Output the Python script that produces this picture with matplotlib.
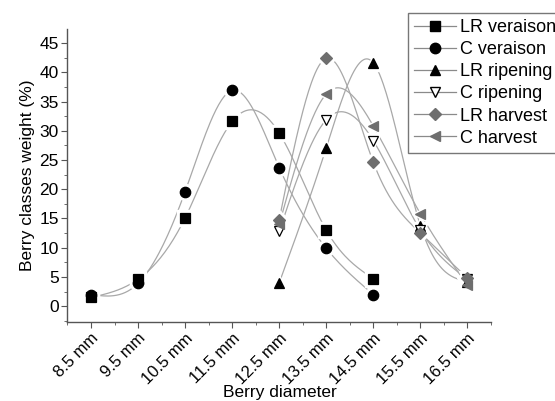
import numpy as np
import matplotlib
matplotlib.use('Agg')
import matplotlib.pyplot as plt
from matplotlib.lines import Line2D

sizes = [8.5, 9.5, 10.5, 11.5, 12.5, 13.5, 14.5, 15.5, 16.5]
tick_labels = ['8.5 mm', '9.5 mm', '10.5 mm', '11.5 mm', '12.5 mm',
               '13.5 mm', '14.5 mm', '15.5 mm', '16.5 mm']

lr_veraison_x = [8.5, 9.5, 10.5, 11.5, 12.5, 13.5, 14.5]
lr_veraison = [1.5, 4.6, 15.1, 31.6, 29.6, 13.0, 4.7]
c_veraison_x = [8.5, 9.5, 10.5, 11.5, 12.5, 13.5, 14.5]
c_veraison = [2.0, 3.9, 19.6, 36.9, 23.7, 9.9, 2.0]
late_x = [12.5, 13.5, 14.5, 15.5, 16.5]
lr_ripening = [4.0, 27.1, 41.6, 13.8, 4.2]
c_ripening = [12.8, 31.9, 28.3, 13.0, 4.6]
lr_harvest = [14.8, 42.4, 24.6, 12.5, 4.8]
c_harvest = [14.0, 36.3, 30.8, 15.8, 3.6]

series = [
    ('LR veraison', lr_veraison_x, lr_veraison, 's', 'black', 'black'),
    ('C veraison', c_veraison_x, c_veraison, 'o', 'black', 'black'),
    ('LR ripening', late_x, lr_ripening, '^', 'black', 'black'),
    ('C ripening', late_x, c_ripening, 'v', 'white', 'black'),
    ('LR harvest', late_x, lr_harvest, 'D', '#6e6e6e', '#6e6e6e'),
    ('C harvest', late_x, c_harvest, '<', '#6e6e6e', '#6e6e6e'),
]


def spline(x, y, n=200):
    # natural cubic spline, just for drawing the smooth connecting line
    x = np.asarray(x, float)
    y = np.asarray(y, float)
    k = len(x)
    h = np.diff(x)
    A = np.zeros((k, k))
    r = np.zeros(k)
    A[0, 0] = A[-1, -1] = 1
    for i in range(1, k - 1):
        A[i, i - 1] = h[i - 1]
        A[i, i] = 2 * (h[i - 1] + h[i])
        A[i, i + 1] = h[i]
        r[i] = 6 * ((y[i + 1] - y[i]) / h[i] - (y[i] - y[i - 1]) / h[i - 1])
    m = np.linalg.solve(A, r)
    xs = np.linspace(x[0], x[-1], n)
    idx = np.clip(np.searchsorted(x, xs) - 1, 0, k - 2)
    x0, x1 = x[idx], x[idx + 1]
    hh = x1 - x0
    a = (x1 - xs) / hh
    b = (xs - x0) / hh
    ys = (a * y[idx] + b * y[idx + 1]
          + ((a ** 3 - a) * m[idx] + (b ** 3 - b) * m[idx + 1]) * hh ** 2 / 6)
    return xs, ys


def msize(mk):
    return 6.5 if mk == 'D' else 7.5


plt.rcParams['font.family'] = ['Liberation Sans', 'DejaVu Sans']
fs = 12
fig = plt.figure(figsize=(5.55, 4.01), dpi=100)
ax = fig.add_axes([67 / 555, 1 - 322 / 401, (491 - 67) / 555, (322 - 29) / 401])

for name, x, y, mk, fc, ec in series:
    xs, ys = spline(x, y)
    ax.plot(xs, ys, color='#a8a8a8', lw=0.9, zorder=1)

# white halo gives the gap in the lines around each marker
for name, x, y, mk, fc, ec in series:
    ax.plot(x, y, ls='none', marker=mk, ms=msize(mk) + 4, mfc='white',
            mec='white', zorder=2)
for name, x, y, mk, fc, ec in series:
    ax.plot(x, y, ls='none', marker=mk, ms=msize(mk),
            mfc=fc, mec=ec, mew=0.9, zorder=3)

ax.set_xlim(7.99, 17.0)
ax.set_ylim(-2.7, 47.4)
ax.set_xticks(sizes)
ax.set_xticklabels(tick_labels, rotation=45, ha='right', rotation_mode='anchor')
ax.set_xticks(np.arange(8.0, 17.01, 0.5), minor=True)
ax.set_yticks(np.arange(0, 46, 5))
ax.set_yticks(np.arange(-2.5, 47.5, 2.5), minor=True)
for s in ['top', 'right']:
    ax.spines[s].set_visible(False)
for s in ['left', 'bottom']:
    ax.spines[s].set_color('#555555')
    ax.spines[s].set_linewidth(1.0)
ax.tick_params(axis='both', which='major', length=4, color='#555555',
               labelsize=fs + 0.5, pad=2)
ax.tick_params(axis='x', which='major', labelsize=fs)
ax.tick_params(axis='both', which='minor', length=2.5, color='#555555')
ax.set_ylabel('Berry classes weight (%)', fontsize=fs + 0.5, labelpad=3)
fig.text(280 / 555, 1 - 397 / 401, 'Berry diameter', fontsize=fs + 0.5,
         ha='center', va='baseline')

handles = [Line2D([0], [0], color='#8a8a8a', lw=0.9, marker=mk,
                  ms=msize(mk), mfc=fc, mec=ec)
           for name, x, y, mk, fc, ec in series]
labels = [s[0] for s in series]
leg = fig.legend(handles, labels, loc='upper left',
                 bbox_to_anchor=(408 / 555, 1 - 13 / 401),
                 fontsize=13, frameon=True, fancybox=False,
                 handlelength=2.3, handletextpad=0.25, labelspacing=0.28,
                 borderpad=0.35, borderaxespad=0)
leg.get_frame().set_edgecolor('#555555')
leg.get_frame().set_linewidth(1.0)

fig.savefig('out.png', dpi=100)
